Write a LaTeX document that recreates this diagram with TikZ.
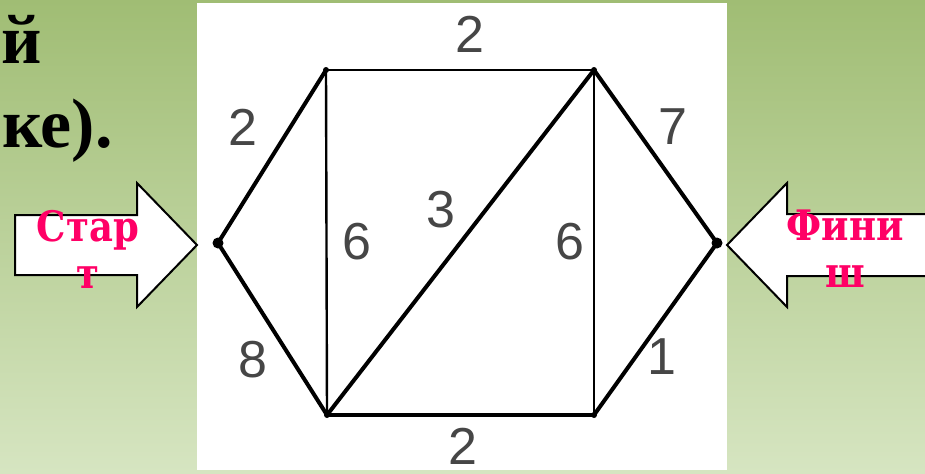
\documentclass[tikz,border=0pt]{standalone}
\usepackage{fontspec}
\setmainfont{Liberation Serif}
\newfontfamily\labelfont{Liberation Sans}
\newfontfamily\signfont[FakeStretch=0.88]{DejaVu Serif}
\definecolor{signpink}{HTML}{FF0066}
\definecolor{bgtop}{RGB}{160,189,116}
\definecolor{bgbottom}{RGB}{214,229,193}
\definecolor{labelgray}{RGB}{70,70,70}

\tikzstyle{vertex} = [circle, fill=black, inner sep=0pt, minimum size=3pt]
\tikzstyle{endvertex} = [vertex, minimum size=5.5pt]
\tikzstyle{edge} = [draw, line width=2pt, line cap=round]
\tikzstyle{thinedge} = [draw, line width=1.2pt]
\tikzstyle{weight} = [text=labelgray, font=\labelfont\fontsize{26}{26}\selectfont, inner sep=0pt]
\tikzstyle{sign} = [text=signpink, font=\signfont\bfseries\fontsize{21}{23.5}\selectfont, align=center, inner sep=0pt]
\tikzstyle{blockarrow} = [draw=black, fill=white, line width=1pt, line join=miter]
\tikzstyle{heading} = [font=\bfseries\fontsize{35}{40}\selectfont, inner sep=0pt, anchor=base east]

\begin{document}
\begin{tikzpicture}[x=0.5pt, y=-0.5pt]

	\useasboundingbox (0,0) rectangle (925,473);

	%Slide background and white picture panel
	\shade[top color=bgtop, bottom color=bgbottom] (0,0) rectangle (925,473);
	\fill[white] (197,3) rectangle (727,470);

	%Remains of the slide text on the left
	\node[heading](line1) at (42,63) {й};
	\node[heading](line2) at (113,147) {ке).};

	%Vertices of the graph
	\node[endvertex](L) at (218,243) {};
	\node[vertex](TL) at (326,70) {};
	\node[vertex](TR) at (594,70) {};
	\node[endvertex](R) at (717,243) {};
	\node[vertex](BL) at (327,415) {};
	\node[vertex](BR) at (594,415) {};

	%Edges of the graph
	\path[edge] (L.center) -- (TL.center);
	\path[edge] (L.center) -- (BL.center);
	\path[thinedge] (TL.center) -- (TR.center);
	\path[thinedge] (TL.center) -- (BL.center);
	\path[edge] (BL.center) -- (TR.center);
	\path[thinedge] (TR.center) -- (BR.center);
	\path[edge] (TR.center) -- (R.center);
	\path[edge] (BR.center) -- (R.center);
	\path[edge] (BL.center) -- (BR.center);

	%Edge weights
	\node[weight](w-top) at (470,34) {2};
	\node[weight](w-lt) at (243,127) {2};
	\node[weight](w-lv) at (357,242) {6};
	\node[weight](w-diag) at (441,210) {3};
	\node[weight](w-rv) at (570,242) {6};
	\node[weight](w-rt) at (673,127) {7};
	\node[weight](w-lb) at (253,360) {8};
	\node[weight](w-rb) at (662,357) {1};
	\node[weight](w-bottom) at (463,446) {2};

	%Start and finish arrows
	\path[blockarrow] (15,215) -- (137,215) -- (137,183) -- (197,245) -- (137,307) -- (137,275) -- (15,275) -- cycle;
	\path[blockarrow] (935,214) -- (787,214) -- (787,183) -- (727,245) -- (787,307) -- (787,276) -- (935,276);
	\node[sign](start) at (88,249) {Стар\\т};
	\node[sign](finish) at (845,249) {Фини\\ш};

\end{tikzpicture}
\end{document}
